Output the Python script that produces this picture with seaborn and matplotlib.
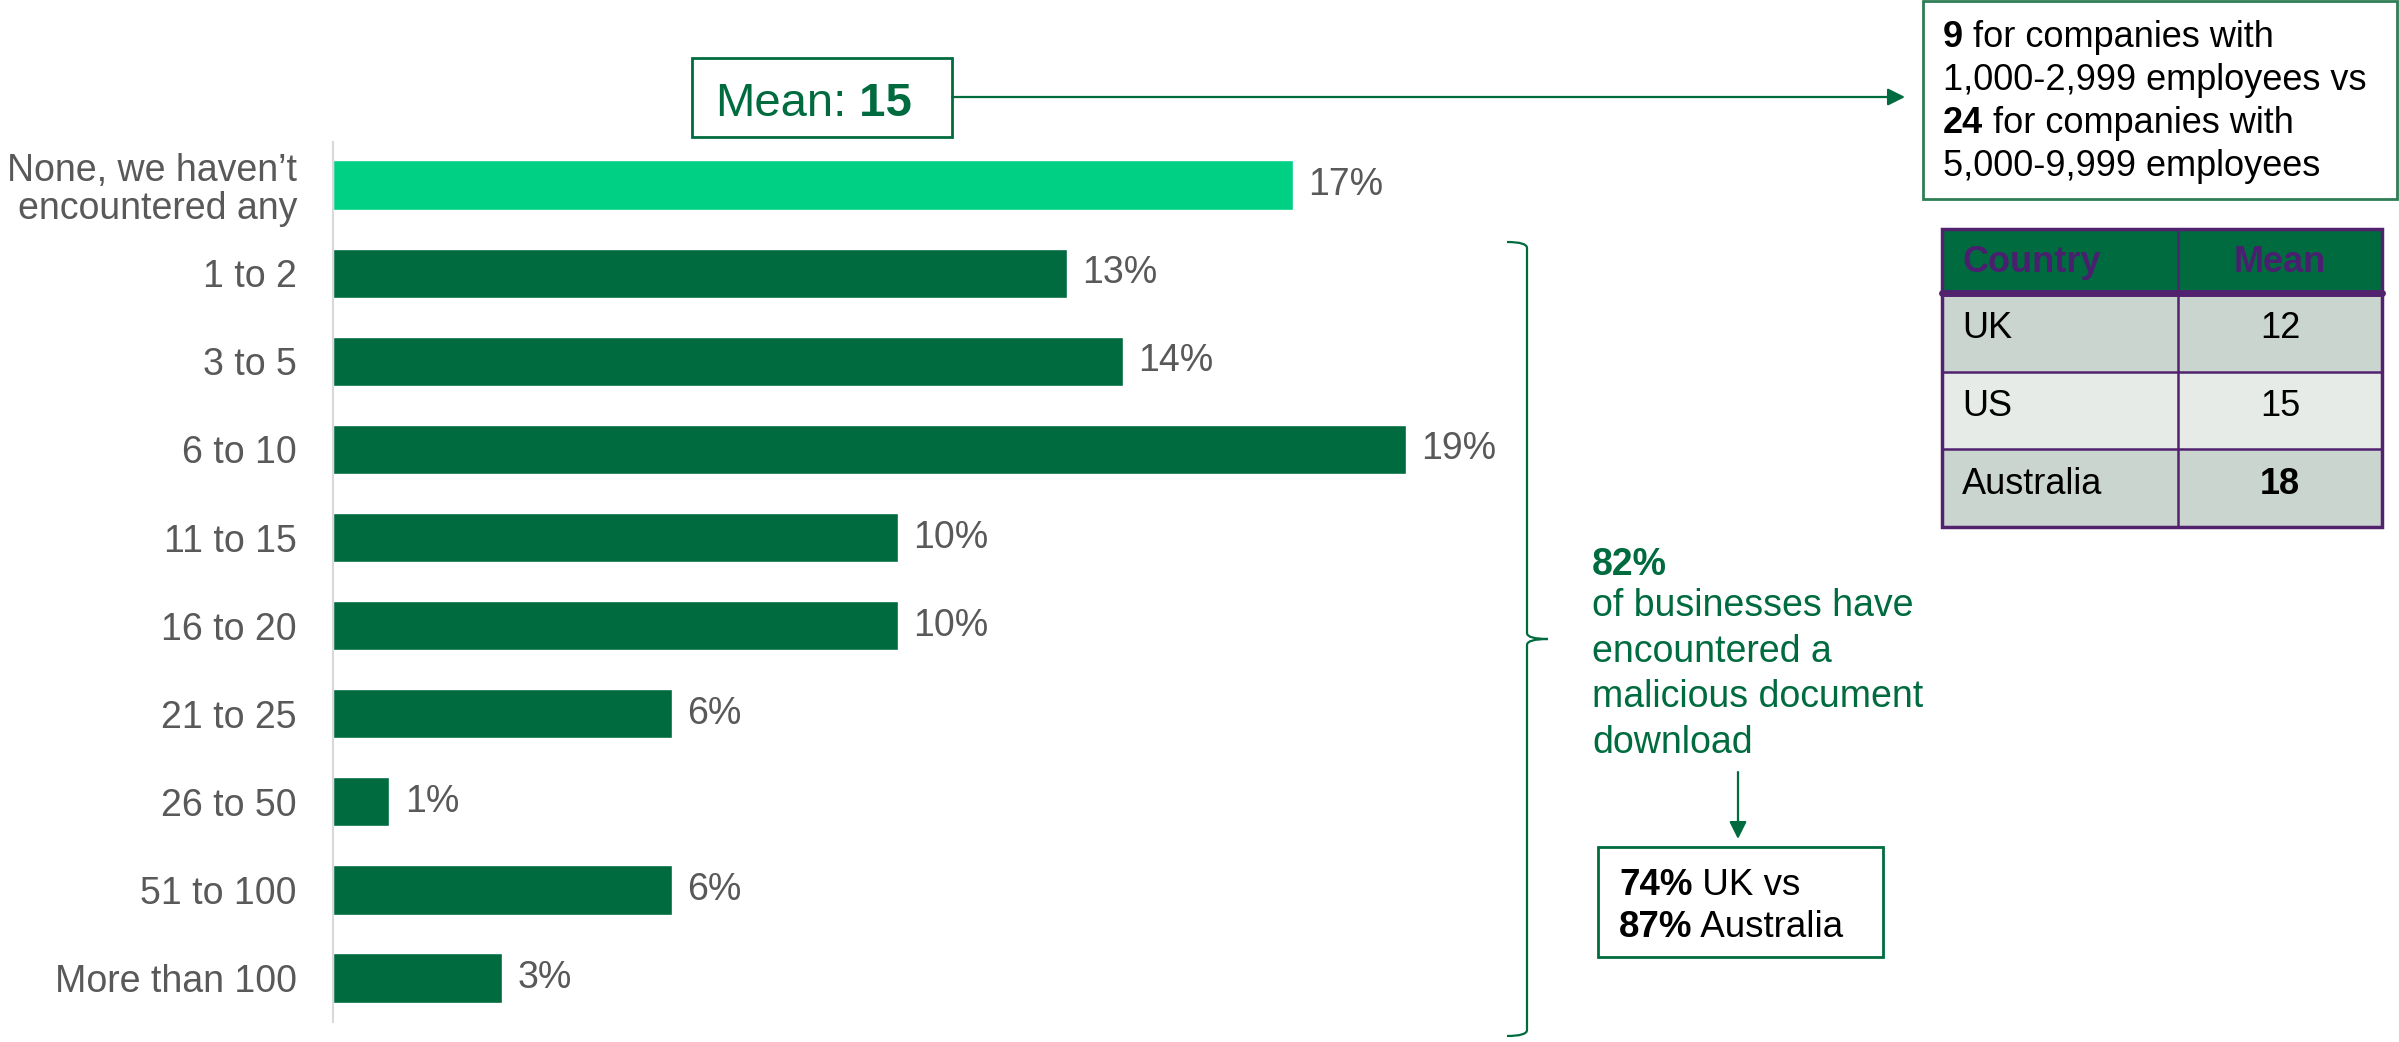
import numpy as np
import pandas as pd
import matplotlib
matplotlib.use("Agg")
import matplotlib.pyplot as plt
import seaborn as sns
from matplotlib.patches import Rectangle, FancyArrowPatch, PathPatch
from matplotlib.path import Path
from matplotlib.lines import Line2D

# ---- data ----
categories = ["None, we haven\u2019t\nencountered any", "1 to 2", "3 to 5", "6 to 10",
              "11 to 15", "16 to 20", "21 to 25", "26 to 50", "51 to 100", "More than 100"]
shares = [17, 13, 14, 19, 10, 10, 6, 1, 6, 3]
overall_mean = 15
encountered_share = 82
size_band_means = [9, 24]
size_bands = ["1,000-2,999", "5,000-9,999"]
countries = ["UK", "US", "Australia"]
country_means = [12, 15, 18]
country_shares = {"UK": 74, "Australia": 87}

# ---- style ----
LIGHT = "#00D084"
DARK = "#006B3F"
GRAY = "#595959"
PURPLE = "#4B1F6F"
BORDER_PURPLE = "#52226F"
ROW_A = "#CBD5D0"
ROW_B = "#E6EBE8"

sns.set_theme(style="white")
plt.rcParams["font.family"] = ["Liberation Sans", "DejaVu Sans"]

W, H = 2399, 1042
fig = plt.figure(figsize=(W / 100, H / 100), dpi=100)
fig.patch.set_facecolor("white")


def fx(x):
    return x / W


def fy(y):
    return 1 - y / H


# ---- bar chart ----
ax = fig.add_axes([fx(333), fy(1022), (1462 - 333) / W, (1022 - 142) / H])
df = pd.DataFrame({"category": categories, "share": shares})
palette = [LIGHT] + [DARK] * (len(categories) - 1)
sns.barplot(data=df, x="share", y="category", hue="category", palette=palette,
            orient="h", width=0.56, legend=False, saturation=1, ax=ax)
for cont in ax.containers:
    ax.bar_label(cont, fmt="{:.0f}%", padding=11, fontsize=27, color=GRAY)
ax.set_xlim(0, 20)
ax.set_ylim(9.5, -0.49)
ax.set_xticks([])
ax.set_xlabel("")
ax.set_ylabel("")
ax.tick_params(axis="y", length=0, pad=26, labelsize=27, labelcolor=GRAY)
for lbl in ax.get_yticklabels():
    lbl.set_linespacing(1.05)
for side in ["top", "right", "bottom"]:
    ax.spines[side].set_visible(False)
ax.spines["left"].set_color("#D9D9D9")
ax.spines["left"].set_linewidth(1.5)

renderer = fig.canvas.get_renderer()


def runs(x, y, parts, size, color):
    for s, w in parts:
        t = fig.text(fx(x), fy(y), s, fontsize=size, fontweight=w, color=color,
                     va="baseline", ha="left")
        x += t.get_window_extent(renderer).width
    return x


def rect(x0, y0, x1, y1, **kw):
    r = Rectangle((fx(x0), fy(y1)), (x1 - x0) / W, (y1 - y0) / H,
                  transform=fig.transFigure, **kw)
    fig.add_artist(r)
    return r


def line(x0, y0, x1, y1, **kw):
    fig.add_artist(Line2D([fx(x0), fx(x1)], [fy(y0), fy(y1)], transform=fig.transFigure, **kw))


def arrow(x0, y0, x1, y1):
    fig.add_artist(FancyArrowPatch((fx(x0), fy(y0)), (fx(x1), fy(y1)), arrowstyle="-|>",
                                   mutation_scale=26, lw=1.6, color=DARK,
                                   transform=fig.transFigure, shrinkA=0, shrinkB=0))


# ---- mean callout ----
rect(692, 58, 952, 137, fill=False, ec=DARK, lw=2)
runs(715, 116, [("Mean:", "normal"), (f" {overall_mean}", "bold")], 34, DARK)
arrow(952, 97, 1905, 97)

# ---- company size box ----
rect(1923, 1, 2397, 199, fill=False, ec="#2E7D55", lw=2)
runs(1943, 47, [(f"{size_band_means[0]}", "bold"), (" for companies with", "normal")], 26, "black")
runs(1943, 90, [(f"{size_bands[0]} employees vs", "normal")], 26, "black")
runs(1943, 133, [(f"{size_band_means[1]}", "bold"), (" for companies with", "normal")], 26, "black")
runs(1943, 176, [(f"{size_bands[1]} employees", "normal")], 26, "black")

# ---- country table ----
tx0, tx1, tdiv = 1942, 2382, 2178
rows_y = [229, 294, 372, 449, 527]
rect(tx0, rows_y[0], tx1, rows_y[1], fc=DARK, ec="none")
for i in range(3):
    rect(tx0, rows_y[i + 1], tx1, rows_y[i + 2], fc=ROW_A if i % 2 == 0 else ROW_B, ec="none")
hy = (rows_y[0] + rows_y[1]) / 2 + 1
fig.text(fx(1962), fy(hy), "Country", fontsize=26, fontweight="bold",
         color=PURPLE, va="center", ha="left")
fig.text(fx(2280), fy(hy), "Mean", fontsize=26, fontweight="bold",
         color=PURPLE, va="center", ha="center")
for i, (c, m) in enumerate(zip(countries, country_means)):
    yc = (rows_y[i + 1] + rows_y[i + 2]) / 2 - 4
    wt = "bold" if m == max(country_means) else "normal"
    fig.text(fx(1962), fy(yc), c, fontsize=26, color="black", va="center", ha="left")
    fig.text(fx(2280), fy(yc), f"{m}", fontsize=26, color="black", fontweight=wt,
             va="center", ha="center")
for yy in rows_y[2:-1]:
    line(tx0, yy, tx1, yy, color=BORDER_PURPLE, lw=1.8)
line(tx0, rows_y[1] - 1, tx1, rows_y[1] - 1, color=BORDER_PURPLE, lw=5)
line(tdiv, rows_y[0], tdiv, rows_y[-1], color=BORDER_PURPLE, lw=1.8)
rect(tx0, rows_y[0], tx1, rows_y[-1], fill=False, ec=BORDER_PURPLE, lw=2.5)

# ---- bracket ----
pts = [(1507, 242), (1527, 242), (1527, 248), (1527, 633), (1527, 639), (1548, 639),
       (1527, 639), (1527, 645), (1527, 1030), (1527, 1036), (1507, 1036)]
codes = [Path.MOVETO, Path.CURVE3, Path.CURVE3, Path.LINETO, Path.CURVE3, Path.CURVE3,
         Path.CURVE3, Path.CURVE3, Path.LINETO, Path.CURVE3, Path.CURVE3]
bracket = Path([(fx(x), fy(y)) for x, y in pts], codes)
fig.add_artist(PathPatch(bracket, fill=False, ec=DARK, lw=1.6, transform=fig.transFigure))

# ---- 82% summary ----
runs(1592, 575, [(f"{encountered_share}%", "bold")], 27, DARK)
for yb, s in zip([616, 662, 707, 753],
                 ["of businesses have", "encountered a", "malicious document", "download"]):
    runs(1592, yb, [(s, "normal")], 27, DARK)
arrow(1738, 772, 1738, 839)

rect(1598, 847, 1883, 957, fill=False, ec=DARK, lw=2)
runs(1619, 895, [(f"{country_shares['UK']}%", "bold"), (" UK vs", "normal")], 26.5, "black")
runs(1619, 937, [(f"{country_shares['Australia']}%", "bold"), (" Australia", "normal")], 26.5, "black")

fig.savefig("out.png", dpi=100, facecolor="white")
